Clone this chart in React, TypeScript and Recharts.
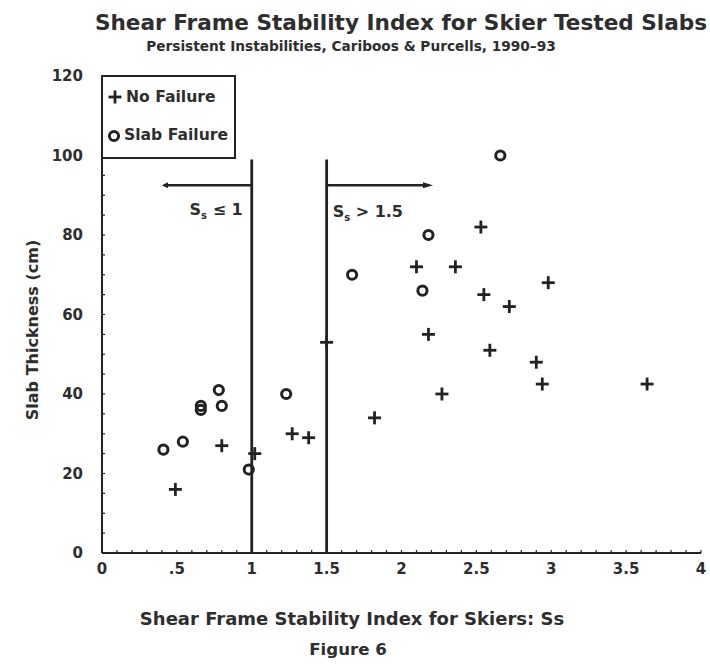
import { ScatterChart, Scatter, XAxis, YAxis, ReferenceLine } from 'recharts';

// Skier tests: Ss index vs slab thickness (cm)
const noFailure = [
  { x: 0.49, y: 16 },
  { x: 0.8, y: 27 },
  { x: 1.02, y: 25 },
  { x: 1.27, y: 30 },
  { x: 1.38, y: 29 },
  { x: 1.5, y: 53 },
  { x: 1.82, y: 34 },
  { x: 2.1, y: 72 },
  { x: 2.36, y: 72 },
  { x: 2.53, y: 82 },
  { x: 2.55, y: 65 },
  { x: 2.72, y: 62 },
  { x: 2.98, y: 68 },
  { x: 2.18, y: 55 },
  { x: 2.59, y: 51 },
  { x: 2.9, y: 48 },
  { x: 2.94, y: 42.5 },
  { x: 2.27, y: 40 },
  { x: 3.64, y: 42.5 },
];

const slabFailure = [
  { x: 0.41, y: 26 },
  { x: 0.54, y: 28 },
  { x: 0.66, y: 37 },
  { x: 0.66, y: 36 },
  { x: 0.78, y: 41 },
  { x: 0.8, y: 37 },
  { x: 0.98, y: 21 },
  { x: 1.23, y: 40 },
  { x: 1.67, y: 70 },
  { x: 2.14, y: 66 },
  { x: 2.18, y: 80 },
  { x: 2.66, y: 100 },
];

const xMajor = [0, 0.5, 1, 1.5, 2, 2.5, 3, 3.5, 4];
const xMajorLabels = ['0', '.5', '1', '1.5', '2', '2.5', '3', '3.5', '4'];
const xMinor = [
  0, 0.1, 0.2, 0.3, 0.4, 0.5, 0.6, 0.7, 0.8, 0.9, 1, 1.1, 1.2, 1.3, 1.4, 1.5, 1.6, 1.7, 1.8, 1.9, 2,
  2.1, 2.2, 2.3, 2.4, 2.5, 2.6, 2.7, 2.8, 2.9, 3, 3.1, 3.2, 3.3, 3.4, 3.5, 3.6, 3.7, 3.8, 3.9, 4,
];
const yMajor = [0, 20, 40, 60, 80, 100, 120];
const yMinor = [
  0, 5, 10, 15, 20, 25, 30, 35, 40, 45, 50, 55, 60, 65, 70, 75, 80, 85, 90, 95, 100, 105, 110, 115,
  120,
];

// threshold lines and the arrows marking the two zones
const thresholds = [1, 1.5];
const thresholdTop = 99;
const arrowLevel = 92.5;
const leftArrowEnd = 0.4;
const rightArrowEnd = 2.21;

const INK = '#222';
const TEXT = '#2e2e2e';
const FONT = '"DejaVu Sans", sans-serif';

const PlusShape = (props: any) => {
  const { cx, cy } = props;
  if (cx == null || cy == null) return null;
  return (
    <g stroke={INK} strokeWidth={2.8}>
      <line x1={cx - 6.5} y1={cy} x2={cx + 6.5} y2={cy} />
      <line x1={cx} y1={cy - 6.5} x2={cx} y2={cy + 6.5} />
    </g>
  );
};

const CircleShape = (props: any) => {
  const { cx, cy } = props;
  if (cx == null || cy == null) return null;
  return <circle cx={cx} cy={cy} r={4.6} fill="none" stroke={INK} strokeWidth={3} />;
};

const Subscripted = ({ x, y, anchor, rest }: { x: number; y: number; anchor: string; rest: string }) => (
  <text x={x} y={y} textAnchor={anchor} fill={TEXT} fontFamily={FONT} fontWeight="bold" fontSize={16}>
    S
    <tspan dy={4} fontSize={10}>
      s
    </tspan>
    <tspan dy={-4}>{rest}</tspan>
  </text>
);

const ArrowShape = (side: 'left' | 'right') => (props: any) => {
  const { x1, y1, x2 } = props;
  if (x1 == null) return null;
  const dir = x2 > x1 ? 1 : -1;
  const head = side === 'right' ? 10 : 6;
  return (
    <g>
      <line x1={x1} y1={y1} x2={x2 - dir * head * 0.5} y2={y1} stroke={INK} strokeWidth={2.4} />
      <polygon
        points={`${x2},${y1} ${x2 - dir * head},${y1 - 3} ${x2 - dir * head},${y1 + 3}`}
        fill={INK}
      />
      {side === 'left' ? (
        <Subscripted x={x1 - 9} y={y1 + 30} anchor="end" rest=" ≤ 1" />
      ) : (
        <Subscripted x={x1 + 6} y={y1 + 32} anchor="start" rest=" > 1.5" />
      )}
    </g>
  );
};

const xLabel = (v: number) => {
  const i = xMajor.indexOf(v);
  return i >= 0 ? xMajorLabels[i] : '';
};
const yLabel = (v: number) => (yMajor.includes(v) ? String(v) : '');

export default function App() {
  const tickStyle = { fill: TEXT, fontSize: 15, fontWeight: 'bold', fontFamily: FONT };
  const axisLine = { stroke: INK, strokeWidth: 2 };
  const tickLine = { stroke: INK, strokeWidth: 1.2 };

  return (
    <div style={{ position: 'absolute', left: 0, top: 0, width: 710, height: 664, background: '#fff' }}>
      <ScatterChart width={710} height={664} margin={{ top: 76, right: 9, bottom: 0, left: 0 }}>
        <XAxis
          xAxisId="b"
          type="number"
          dataKey="x"
          domain={[0, 4]}
          ticks={xMinor}
          interval={0}
          tickFormatter={xLabel}
          tickSize={-3}
          tickMargin={13}
          height={111}
          tick={tickStyle}
          axisLine={axisLine}
          tickLine={tickLine}
        />
        <XAxis
          xAxisId="t"
          orientation="top"
          type="number"
          dataKey="x"
          domain={[0, 4]}
          ticks={xMinor}
          interval={0}
          tickFormatter={() => ''}
          tickSize={-3}
          height={0}
          axisLine={axisLine}
          tickLine={tickLine}
        />
        <YAxis
          yAxisId="l"
          type="number"
          dataKey="y"
          domain={[0, 120]}
          ticks={yMinor}
          interval={0}
          tickFormatter={yLabel}
          tickSize={-3}
          tickMargin={22}
          width={102}
          tick={tickStyle}
          axisLine={axisLine}
          tickLine={tickLine}
        />
        <YAxis
          yAxisId="r"
          orientation="right"
          type="number"
          dataKey="y"
          domain={[0, 120]}
          ticks={yMinor}
          interval={0}
          tickFormatter={() => ''}
          tickSize={-3}
          width={0}
          axisLine={axisLine}
          tickLine={tickLine}
        />
        {thresholds.map((t) => (
          <ReferenceLine
            key={t}
            xAxisId="b"
            yAxisId="l"
            segment={[
              { x: t, y: 0 },
              { x: t, y: thresholdTop },
            ]}
            stroke={INK}
            strokeWidth={2.8}
          />
        ))}
        <ReferenceLine
          xAxisId="b"
          yAxisId="l"
          segment={[
            { x: thresholds[0], y: arrowLevel },
            { x: leftArrowEnd, y: arrowLevel },
          ]}
          shape={ArrowShape('left')}
        />
        <ReferenceLine
          xAxisId="b"
          yAxisId="l"
          segment={[
            { x: thresholds[1], y: arrowLevel },
            { x: rightArrowEnd, y: arrowLevel },
          ]}
          shape={ArrowShape('right')}
        />
        <Scatter
          name="No Failure"
          xAxisId="b"
          yAxisId="l"
          data={noFailure}
          shape={PlusShape}
          isAnimationActive={false}
        />
        <Scatter
          name="Slab Failure"
          xAxisId="b"
          yAxisId="l"
          data={slabFailure}
          shape={CircleShape}
          isAnimationActive={false}
        />
      </ScatterChart>

      <svg
        width={710}
        height={664}
        style={{ position: 'absolute', left: 0, top: 0, pointerEvents: 'none' }}
        fontFamily={FONT}
        fontWeight="bold"
        fill={TEXT}
      >
        <text x={401} y={30} textAnchor="middle" fontSize={21.6}>
          Shear Frame Stability Index for Skier Tested Slabs
        </text>
        <text x={351} y={51} textAnchor="middle" fontSize={13.7}>
          Persistent Instabilities, Cariboos &amp; Purcells, 1990–93
        </text>
        <text x={352} y={625} textAnchor="middle" fontSize={18}>
          Shear Frame Stability Index for Skiers: Ss
        </text>
        <text x={348} y={655} textAnchor="middle" fontSize={16.6}>
          Figure 6
        </text>
        <text
          x={0}
          y={0}
          textAnchor="middle"
          fontSize={16}
          transform="translate(38 330) rotate(-90)"
        >
          Slab Thickness (cm)
        </text>

        {/* legend box */}
        <rect x={102} y={76} width={133} height={82} fill="#fff" stroke={INK} strokeWidth={2} />
        <PlusShape cx={115} cy={97} />
        <text x={126} y={102} fontSize={15.6}>
          No Failure
        </text>
        <CircleShape cx={114} cy={136} />
        <text x={124} y={140} fontSize={15.6}>
          Slab Failure
        </text>
      </svg>
    </div>
  );
}
